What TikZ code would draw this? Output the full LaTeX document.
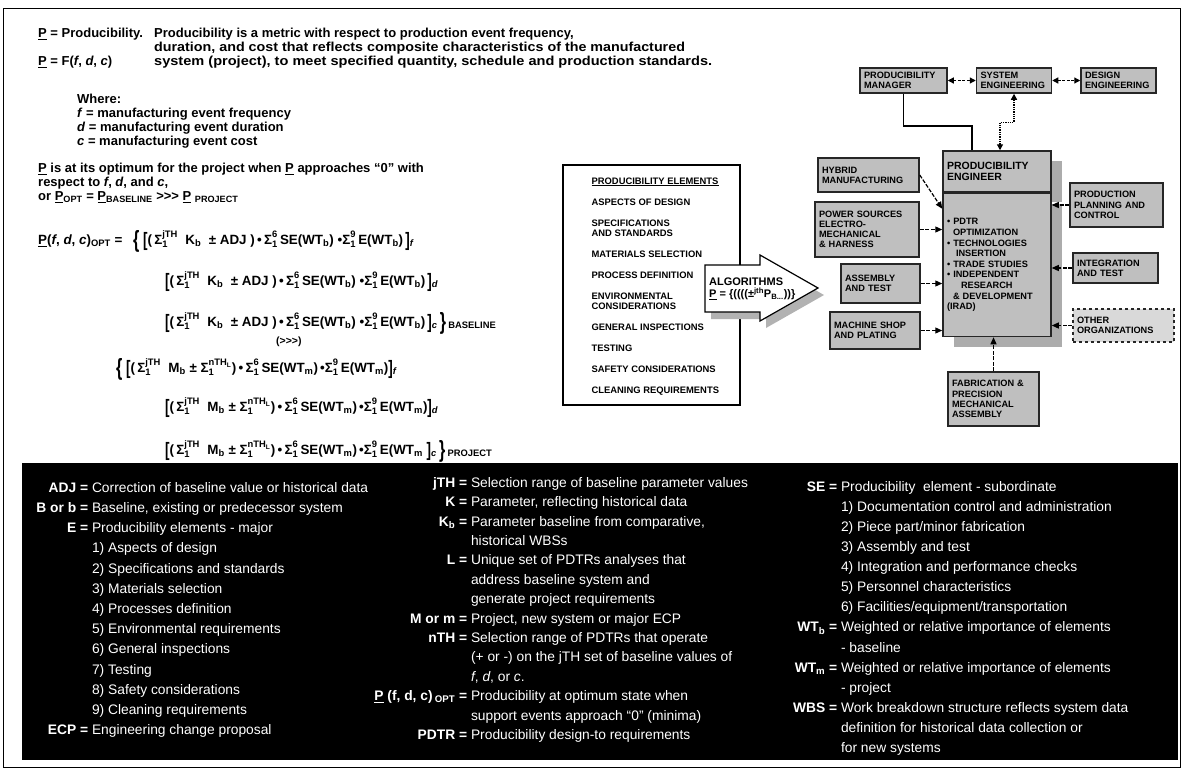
\documentclass[tikz,border=0pt]{standalone}
\usepackage{fontspec}
\setmainfont{Liberation Sans}
\usepackage{amsmath}
\usepackage{graphicx}
\usetikzlibrary{positioning, arrows.meta, shadows}

\newcommand{\hdfont}{\fontsize{13}{14}\selectfont\bfseries}
\newcommand{\eqfont}{\fontsize{13.4}{15}\selectfont\bfseries}
\newcommand{\boxfont}{\fontsize{9.2}{10.2}\selectfont\bfseries}
\newcommand{\deffont}{\fontsize{13.8}{20.2}\selectfont}
% sums, brackets and subscripts of the equations
\newcommand{\Sg}[2]{$\text{Σ}^{\text{#2}}_{\text{#1}}$}
\newcommand{\sub}[1]{$_{\text{#1}}$}
\newcommand{\lbr}{\raisebox{-2.5pt}{\scalebox{1}[1.45]{[}}}
\newcommand{\rbr}{\raisebox{-2.5pt}{\scalebox{1}[1.45]{]}}}
\newcommand{\lcb}{\raisebox{-3.5pt}{\scalebox{1.2}[1.75]{\{}}}
\newcommand{\rcb}{\raisebox{-3.5pt}{\scalebox{1.2}[1.75]{\}}}}
\newcommand{\Kline}[1]{\lbr(\,\Sg{1}{jTH}\ \ K\sub{b}\ \ ±\ ADJ\ )\,•\,\Sg{1}{6}\,SE(WT\sub{b})\ •\Sg{1}{9}\,E(WT\sub{b})\,\rbr\sub{\textit{#1}}}
\newcommand{\Mpart}{\lbr(\,\Sg{1}{jTH}\ \ M\sub{b}\ ±\ \Sg{1}{nTH$_{\text{L}}$})\,•\,\Sg{1}{6}\,SE(WT\sub{m})\,•\Sg{1}{9}\,E(WT\sub{m}}
% legend terms
\newlength{\termw}
\newcommand{\dt}[1]{\makebox[\termw][r]{\bfseries #1 =}\ }
\newcommand{\dc}{\hspace*{\termw}\ }

\begin{document}
\begin{tikzpicture}[x=1pt, y=-1pt, every node/.style={inner sep=0pt},
  unitbox/.style={draw=black!85, line width=1.5pt, fill=gray!50, align=left, inner xsep=4pt, inner ysep=2pt, font=\boxfont},
  feed/.style={line width=1.2pt, dash pattern=on 4pt off 1.5pt, -{Triangle[length=7pt,width=6pt]}},
  both/.style={line width=1.2pt, dash pattern=on 3pt off 1.5pt, {Triangle[length=6pt,width=6pt]}-{Triangle[length=6pt,width=6pt]}},
  hdtext/.style={anchor=north west, align=left, font=\hdfont},
  eqtext/.style={anchor=base west, font=\eqfont},
  deftext/.style={anchor=north west, align=left, text=white, font=\deffont}]
\useasboundingbox (0,0) rectangle (1183,771);
\draw[line width=1pt] (3,8) rectangle (1180,767);

% header
\node[hdtext] (pdef) at (38,28) {\underline{P} = Producibility.};
\node[hdtext] (pdesc) at (154,28) {Producibility is a metric with respect to production event frequency,\\
  \scalebox{1.1}[1]{duration, and cost that reflects composite characteristics of the manufactured}\\
  \scalebox{1.12}[1]{system (project), to meet specified quantity, schedule and production standards.}};
\node[hdtext] (pfun) at (38,56) {\underline{P} = F(\textit{f}, \textit{d}, \textit{c})};
\node[hdtext] (where) at (77,94) {Where:\\\textit{f} = manufacturing event frequency\\\textit{d} = manufacturing event duration\\\textit{c} = manufacturing event cost};
\node[hdtext] (popt) at (38,163) {\underline{P} is at its optimum for the project when \underline{P} approaches ``0'' with\\respect to \textit{f}, \textit{d}, and \textit{c},\\or \underline{P}\sub{OPT} = \underline{P}\sub{BASELINE} >{}>{}> \underline{P} \sub{PROJECT}};

% equations
\node[eqtext] (plhs) at (38,244) {\underline{P}(\textit{f}, \textit{d}, \textit{c})\sub{OPT} =};
\node[eqtext] (k1) at (133,244) {\lcb\ \Kline{f}};
\node[eqtext] (k2) at (165,285) {\Kline{d}};
\node[eqtext] (k3) at (165,326) {\Kline{c}\,\rcb\,\sub{BASELINE}};
\node[eqtext, font=\fontsize{10.5}{12}\selectfont\bfseries] (gt) at (276,344) {(>{}>{}>)};
\node[eqtext] (m1) at (116,372) {\lcb\ \Mpart)\rbr\sub{\textit{f}}};
\node[eqtext] (m2) at (165,411) {\Mpart)\rbr\sub{\textit{d}}};
\node[eqtext] (m3) at (165,454) {\Mpart\ \rbr\sub{\textit{c}}\,\rcb\,\sub{PROJECT}};

% producibility elements
\node[draw, line width=1.2pt, minimum width=177pt, minimum height=240pt] (elems) at (651.5,285) {};
\node[anchor=north west, align=left, font=\fontsize{9.4}{10}\selectfont\bfseries] (elemlist) at ([xshift=29pt, yshift=-13pt]elems.north west)
  {\underline{PRODUCIBILITY ELEMENTS}\\[11pt]ASPECTS OF DESIGN\\[11pt]SPECIFICATIONS\\AND STANDARDS\\[11pt]MATERIALS SELECTION\\[11pt]PROCESS DEFINITION\\[11pt]ENVIRONMENTAL\\CONSIDERATIONS\\[11pt]GENERAL INSPECTIONS\\[11pt]TESTING\\[11pt]SAFETY CONSIDERATIONS\\[11pt]CLEANING REQUIREMENTS};

% algorithms arrow
\fill[gray!60] (711,272) -- (766,272) -- (766,262) -- (824,295) -- (766,328) -- (766,319) -- (711,319) -- cycle;
\draw[line width=1.2pt, fill=white] (705,265) -- (760,265) -- (760,255) -- (818,288) -- (760,321) -- (760,312) -- (705,312) -- cycle;
\node[anchor=west, align=left, font=\fontsize{11}{12}\selectfont\bfseries] (algo) at (709,289) {ALGORITHMS\\\underline{P} = \{((((±$^{\text{jth}}$P$_{\text{B...}}$))\}};

% organisation
\node[unitbox, text width=79pt, minimum height=25pt] (mgr) at (903.5,80.5) {PRODUCIBILITY\\MANAGER};
\node[unitbox, text width=67pt, minimum height=25pt, right=28pt of mgr] (syseng) {SYSTEM\\ENGINEERING};
\node[unitbox, text width=67pt, minimum height=25pt, right=28pt of syseng] (deseng) {DESIGN\\ENGINEERING};
\node[unitbox, text width=100pt, minimum height=41pt, font=\fontsize{10.5}{11.5}\selectfont\bfseries,
  drop shadow={shadow xshift=11pt, shadow yshift=-10pt, fill=gray!65, opacity=1}] (engh) at (997,171.5) {PRODUCIBILITY\\ENGINEER};
\node[unitbox, text width=100pt, minimum height=143pt, font=\fontsize{9.2}{10.6}\selectfont\bfseries,
  drop shadow={shadow xshift=11pt, shadow yshift=-10pt, fill=gray!65, opacity=1}, below=0pt of engh] (engb)
  {• PDTR\\\hspace*{6pt}OPTIMIZATION\\• TECHNOLOGIES\\\hspace*{9pt}INSERTION\\• TRADE STUDIES\\• INDEPENDENT\\\hspace*{14pt}RESEARCH\\\hspace*{6pt}\&~DEVELOPMENT\\(IRAD)};
\node[unitbox, text width=93pt, minimum height=34pt] (hyb) at (868.5,175) {HYBRID\\MANUFACTURING};
\node[unitbox, text width=96pt, minimum height=55pt] (pow) at (867,229.5) {POWER~SOURCES\\ELECTRO-\\MECHANICAL\\\&~HARNESS};
\node[unitbox, text width=71pt, minimum height=39pt] (asm) at (880.5,283.5) {ASSEMBLY\\AND~TEST};
\node[unitbox, text width=82pt, minimum height=37pt] (mach) at (875,330.5) {MACHINE~SHOP\\AND~PLATING};
\node[unitbox, text width=85pt, minimum height=44pt] (ppc) at (1116.5,205) {PRODUCTION\\PLANNING~AND\\CONTROL};
\node[unitbox, text width=77pt, minimum height=30pt] (intg) at (1115.5,268) {INTEGRATION\\AND~TEST};
\node[unitbox, text width=93pt, minimum height=33pt, dashed, fill=gray!30] (oth) at (1123.5,325.5) {OTHER\\ORGANIZATIONS};
\node[unitbox, text width=83pt, minimum height=54pt] (fab) at (993.5,399) {FABRICATION~\&\\PRECISION\\MECHANICAL\\ASSEMBLY};

\draw[both] (mgr) -- (syseng);
\draw[both] (syseng) -- (deseng);
\draw[line width=1.5pt] (mgr.south) -- ++(0,32) -| ([xshift=-25pt]engh.north);
\draw[line width=1.3pt, densely dotted, {Triangle[length=6pt,width=6pt]}-{Triangle[length=6pt,width=6pt]}] ([xshift=3pt]engh.north) -- ++(0,-28) -| (syseng.south);
\draw[feed] (hyb.east) -- ([yshift=-16pt]engb.north west);
\draw[feed] (pow.east) -- (pow.east -| engb.west);
\draw[feed] (asm.east) -- (asm.east -| engb.west);
\draw[feed] (mach.east) -- (mach.east -| engb.west);
\draw[feed] (ppc.west) -- (ppc.west -| engb.east);
\draw[feed] (intg.west) -- (intg.west -| engb.east);
\draw[feed] (oth.west) -- (oth.west -| engb.east);
\draw[feed] (fab.north) -- (fab.north |- engb.south);

% legend
\fill[black] (22,463) rectangle (1178,760);
\setlength{\termw}{66pt}
\node[deftext] (colA) at (22,482) {%
  \dt{ADJ}Correction of baseline value or historical data\\
  \dt{B or b}Baseline, existing or predecessor system\\
  \dt{E}Producibility elements - major\\
  \dc 1) Aspects of design\\
  \dc 2) Specifications and standards\\
  \dc 3) Materials selection\\
  \dc 4) Processes definition\\
  \dc 5) Environmental requirements\\
  \dc 6) General inspections\\
  \dc 7) Testing\\
  \dc 8) Safety considerations\\
  \dc 9) Cleaning requirements\\
  \dt{ECP}Engineering change proposal};
\setlength{\termw}{100pt}
\node[deftext, font=\fontsize{13.8}{19.4}\selectfont] (colB) at (367,477) {%
  \dt{jTH}Selection range of baseline parameter values\\
  \dt{K}Parameter, reflecting historical data\\
  \dt{K$_{\text{b}}$}Parameter baseline from comparative,\\
  \dc historical WBSs\\
  \dt{L}Unique set of PDTRs analyses that\\
  \dc address baseline system and\\
  \dc generate project requirements\\
  \dt{M or m}Project, new system or major ECP\\
  \dt{nTH}Selection range of PDTRs that operate\\
  \dc (+ or -) on the jTH set of baseline values of\\
  \dc \textit{f}, \textit{d}, or \textit{c}.\\
  \dt{\underline{P} (f, d, c)\,$_{\text{OPT}}$}Producibility at optimum state when\\
  \dc support events approach ``0'' (minima)\\
  \dt{PDTR}Producibility design-to requirements};
\setlength{\termw}{60pt}
\node[deftext, font=\fontsize{13.8}{20.1}\selectfont] (colC) at (777,481) {%
  \dt{SE}Producibility\ \ element - subordinate\\
  \dc 1) Documentation control and administration\\
  \dc 2) Piece part/minor fabrication\\
  \dc 3) Assembly and test\\
  \dc 4) Integration and performance checks\\
  \dc 5) Personnel characteristics\\
  \dc 6) Facilities/equipment/transportation\\
  \dt{WT$_{\text{b}}$}Weighted or relative importance of elements\\
  \dc - baseline\\
  \dt{WT$_{\text{m}}$}Weighted or relative importance of elements\\
  \dc - project\\
  \dt{WBS}Work breakdown structure reflects system data\\
  \dc definition for historical data collection or\\
  \dc for new systems};
\end{tikzpicture}
\end{document}
